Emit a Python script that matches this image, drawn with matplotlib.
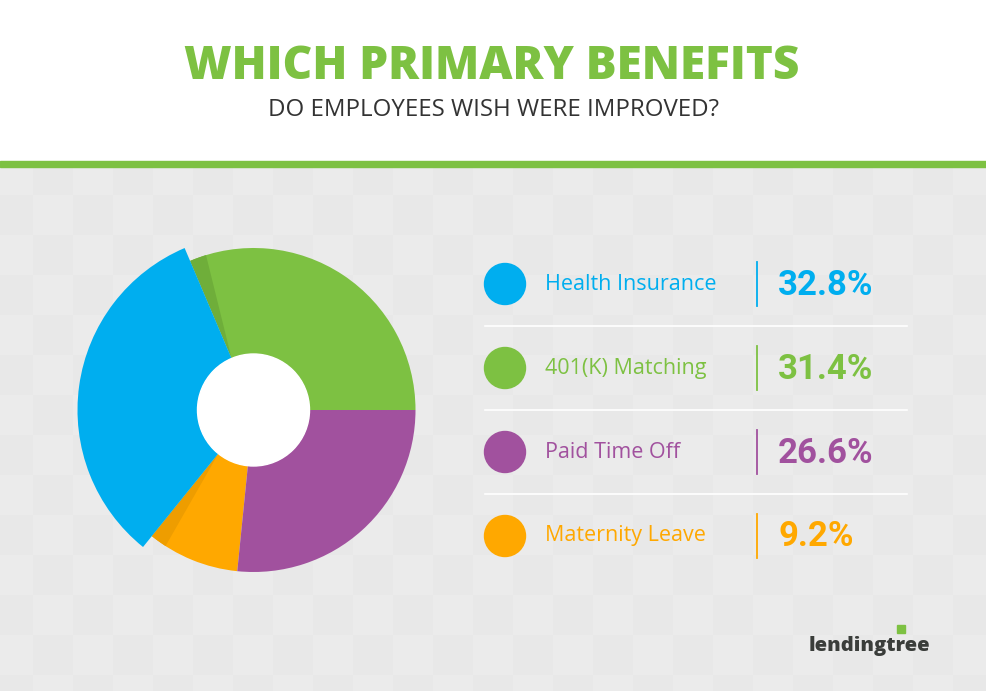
import matplotlib
matplotlib.use("Agg")
import matplotlib.pyplot as plt
import numpy as np
from matplotlib.patches import Circle, Polygon, Rectangle

# data, in pie order (counter-clockwise from 3 o'clock)
pie_labels = ["401(K) Matching", "Health Insurance", "Maternity Leave", "Paid Time Off"]
pie_values = [31.4, 32.8, 9.2, 26.6]
pie_colors = ["#7dc142", "#00aeef", "#ffa800", "#a1519e"]

# legend order
legend_labels = ["Health Insurance", "401(K) Matching", "Paid Time Off", "Maternity Leave"]
legend_values = [32.8, 31.4, 26.6, 9.2]
legend_colors = ["#00aeef", "#7dc142", "#a1519e", "#ffa800"]

W, H = 986, 691
fig = plt.figure(figsize=(W / 100, H / 100), dpi=100)

# full-figure axes in pixel coordinates
bg = fig.add_axes([0, 0, 1, 1])

# checkered background
yy, xx = np.mgrid[167:H, 0:W]
chk = (((xx - 33) // 40) + ((yy - 195) // 40)) % 2
img = np.where(chk[..., None] == 0, [0.925, 0.925, 0.925], [0.912, 0.912, 0.912])
bg.imshow(img, extent=(0, W, H, 167), zorder=0, interpolation="nearest", aspect="auto")
bg.set_xlim(0, W)
bg.set_ylim(H, 0)
bg.axis("off")
bg.add_patch(Rectangle((0, 0), W, 161, color="white", zorder=1))
bg.add_patch(Rectangle((0, 160.5), W, 6.5, color="#7dc142", zorder=1))

bg.text(W / 2 - 1, 67, "WHICH PRIMARY BENEFITS", ha="center", va="center",
        fontsize=33, fontweight="heavy", color="#7dc142", family="Open Sans", zorder=2)
bg.text(W / 2, 110, "DO EMPLOYEES WISH WERE IMPROVED?", ha="center", va="center",
        fontsize=17.3, color="#333333", family="Open Sans", zorder=2)

# legend rows
for i, (lab, val, col) in enumerate(zip(legend_labels, legend_values, legend_colors)):
    y = 284 + i * 84
    bg.add_patch(Circle((505, y), 20.5, color=col, zorder=3))
    bg.text(545, y, lab, ha="left", va="center", fontsize=15.5, color=col,
            family="Open Sans", zorder=3)
    bg.plot([757, 757], [y - 22, y + 22], color=col, lw=1.3, zorder=3)
    bg.text(778, y + 1, f"{val}%", ha="left", va="center", fontsize=25,
            fontweight="bold", color=col, family="Roboto", zorder=3)
    if i < 3:
        bg.plot([485, 907], [y + 42, y + 42], color="white", lw=1.2, zorder=3)

# logo
bg.text(809, 646, "lendingtree", ha="left", va="center", fontsize=14.5,
        fontweight="heavy", color="#3a3d3a", family="Open Sans", zorder=3)
bg.add_patch(Rectangle((897, 625), 8, 8, color="#7dc142", zorder=3))

# pie axes in pixel units around the pie centre
cx, cy, span = 253.5, 410, 190
ax = fig.add_axes([(cx - span) / W, (H - cy - span) / H, 2 * span / W, 2 * span / H])

r_out, r_in, r_blue = 162, 56, 176
wedges, _ = ax.pie(pie_values, colors=pie_colors, startangle=0, counterclock=True,
                   radius=r_out, wedgeprops=dict(width=r_out - r_in, linewidth=0))
ax.set_xlim(-span, span)
ax.set_ylim(-span, span)
ax.axis("off")
blue = wedges[1]
blue.set_radius(r_blue)
blue.set_width(r_blue - r_in)
blue.set_zorder(5)


def shadow(theta_edge, direction, color):
    # thin darker sliver beside the exploded slice
    th = np.radians(np.linspace(theta_edge, theta_edge + direction * 6, 12))
    outer = np.c_[r_out * np.cos(th), r_out * np.sin(th)]
    t0 = np.radians(theta_edge)
    inner = np.array([[r_in * np.cos(t0), r_in * np.sin(t0)]])
    ax.add_patch(Polygon(np.vstack([inner, outer]), closed=True, color=color,
                         lw=0, zorder=4))


shadow(blue.theta1, -1, "#6fae3a")
shadow(blue.theta2, 1, "#ee9d00")
ax.add_patch(Circle((0, 0), r_in, color="white", zorder=6))

fig.savefig("out.png", dpi=100)
